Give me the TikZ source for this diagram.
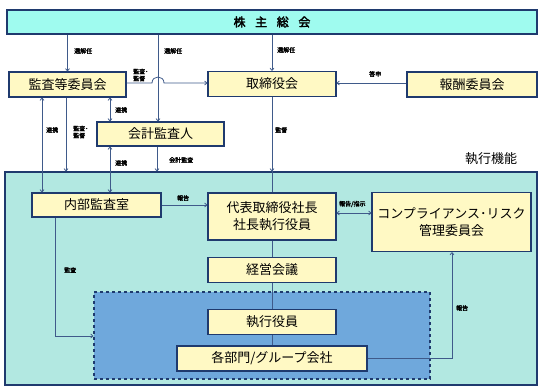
\documentclass[tikz,border=0pt]{standalone}
\usepackage{fontspec}
\newfontfamily\cjk{Noto Sans CJK JP}
\newfontfamily\cjkb[FakeBold=2.5]{Noto Sans CJK JP}
\usetikzlibrary{arrows.meta,calc}
\definecolor{navy}{HTML}{1F3A6E}
\definecolor{linec}{HTML}{3F5A8A}
\definecolor{boxy}{HTML}{FFF9C4}
\definecolor{topc}{HTML}{9FFBEF}
\definecolor{execc}{HTML}{B2E8E1}
\definecolor{dashc}{HTML}{6FA8DC}
\tikzset{
  ybox/.style={draw=navy,line width=1.3pt,fill=boxy,inner sep=0pt,align=center,
    font=\cjk\fontsize{13}{17}\selectfont},
  conn/.style={draw=linec,line width=0.8pt},
  arr/.style={conn,-{To[length=3pt,width=4.5pt]}},
  darr/.style={conn,{To[length=3pt,width=4.5pt]}-{To[length=3pt,width=4.5pt]}},
  lbl/.style={font=\cjkb\fontsize{6}{7}\selectfont,inner sep=0pt,align=left}
}
\begin{document}
\begin{tikzpicture}[x=1pt,y=-1pt]
\useasboundingbox (0,0) rectangle (543,390);
% big execution box
\node[draw=navy,line width=1.3pt,fill=execc,minimum width=532pt,minimum height=213pt,inner sep=0pt] (exec) at (271,278.5) {};
\node[font=\cjk\fontsize{13}{15}\selectfont,inner sep=0pt] (execlbl) at (491,159) {執行機能};
% dashed box
\node[draw=navy,line width=1.2pt,dashed,fill=dashc,minimum width=336pt,minimum height=87pt,inner sep=0pt] (dbox) at (262,335.5) {};
% top
\node[draw=navy,line width=1.3pt,fill=topc,minimum width=530pt,minimum height=24pt,inner sep=0pt,
  font=\cjkb\fontsize{12}{14}\selectfont] (sh) at (272,22) {株\hspace{0.8em}主\hspace{0.8em}総\hspace{0.8em}会};
% boxes
\node[ybox,minimum width=117pt,minimum height=25pt] (ac) at (67.5,84.5) {監査等委員会};
\node[ybox,minimum width=128pt,minimum height=25pt] (bd) at (272,84) {取締役会};
\node[ybox,minimum width=130pt,minimum height=25pt] (rc) at (472,84.5) {報酬委員会};
\node[ybox,minimum width=127pt,minimum height=24pt] (au) at (160.5,134) {会計監査人};
\node[ybox,minimum width=129pt,minimum height=24pt] (ia) at (96.5,205) {内部監査室};
\node[ybox,minimum width=128pt,minimum height=47pt] (ceo) at (272,216.5) {代表取締役社長\\社長執行役員};
\node[ybox,minimum width=159pt,minimum height=59pt] (comp) at (451.5,222) {コンプライアンス･リスク\\管理委員会};
\node[ybox,minimum width=128pt,minimum height=25pt] (mm) at (272,270) {経営会議};
\node[ybox,minimum width=128pt,minimum height=25pt] (eo) at (272,322) {執行役員};
\node[ybox,minimum width=190pt,minimum height=25pt] (dept) at (272,358.5) {各部門/グループ会社};
% coordinates
\coordinate (xA) at (158,0);
\coordinate (xB) at (110,0);
\coordinate (xC) at (42,0);
\coordinate (xD) at (66,0);
\coordinate (xE) at (157,0);
\coordinate (yH) at (0,83);
\coordinate (yR) at (0,213);
\coordinate (xM) at (55,0);
\coordinate (yM) at (0,336);
\coordinate (xR) at (452,0);
\coordinate (hop1) at (152,83);
\coordinate (hop2) at (164,83);
\coordinate (bdtop) at (exec.north -| bd);
% connectors
\draw[arr] (sh.south -| ac) -- (ac.north);
\draw[arr] (sh.south -| xA) -- (au.north -| xA);
\draw[arr] (sh.south -| bd) -- (bd.north);
\draw[arr] (ac.east |- yH) -- (hop1) .. controls ($(hop1)+(0,-8)$) and ($(hop2)+(0,-8)$) .. (hop2) -- (bd.west |- yH);
\draw[arr] (rc.west |- yH) -- (bd.east |- yH);
\draw[darr] (ac.south -| xB) -- (au.north -| xB);
\draw[darr] (ac.south -| xC) -- (ia.north -| xC);
\draw[arr] (ac.south -| xD) -- (exec.north -| xD);
\draw[darr] (au.south -| xB) -- (ia.north -| xB);
\draw[arr] (au.south -| xE) -- (exec.north -| xE);
\draw[arr] (bd.south) -- (bdtop);
\draw[conn] (bdtop) -- (ceo.north);
\draw[arr] (ia.east) -- (ceo.west |- ia.east);
\draw[darr] (ceo.east |- yR) -- (comp.west |- yR);
\draw[conn] (ceo.south) -- (mm.north);
\draw[conn] (mm.south) -- (eo.north);
\draw[conn] (eo.south) -- (dept.north);
\draw[arr] (ia.south -| xM) -- (xM |- yM) -- (dbox.west |- yM);
\draw[arr] (dept.east) -- (xR |- dept.east) -- (comp.south -| xR);
% labels
\node[lbl,anchor=west] (l1) at (74,51) {選解任};
\node[lbl,anchor=west] (l2) at (164,51) {選解任};
\node[lbl,anchor=west] (l3) at (277,50) {選解任};
\node[lbl,anchor=west] (l4) at (133,75) {監査･\\監督};
\node[lbl,anchor=west] (l5) at (369,74) {答申};
\node[lbl,anchor=west] (l6) at (115,110) {連携};
\node[lbl,anchor=west] (l7) at (46,130) {連携};
\node[lbl,anchor=west] (l8) at (73,132) {監査･\\監督};
\node[lbl,anchor=west] (l9) at (115,163) {連携};
\node[lbl,anchor=west] (l10) at (169,160) {会計監査};
\node[lbl,anchor=west] (l11) at (275,130) {監督};
\node[lbl,anchor=west] (l12) at (177,198) {報告};
\node[lbl,anchor=west] (l13) at (339,204) {報告/指示};
\node[lbl,anchor=west] (l14) at (64,270) {監査};
\node[lbl,anchor=west] (l15) at (456,308) {報告};
\end{tikzpicture}
\end{document}
